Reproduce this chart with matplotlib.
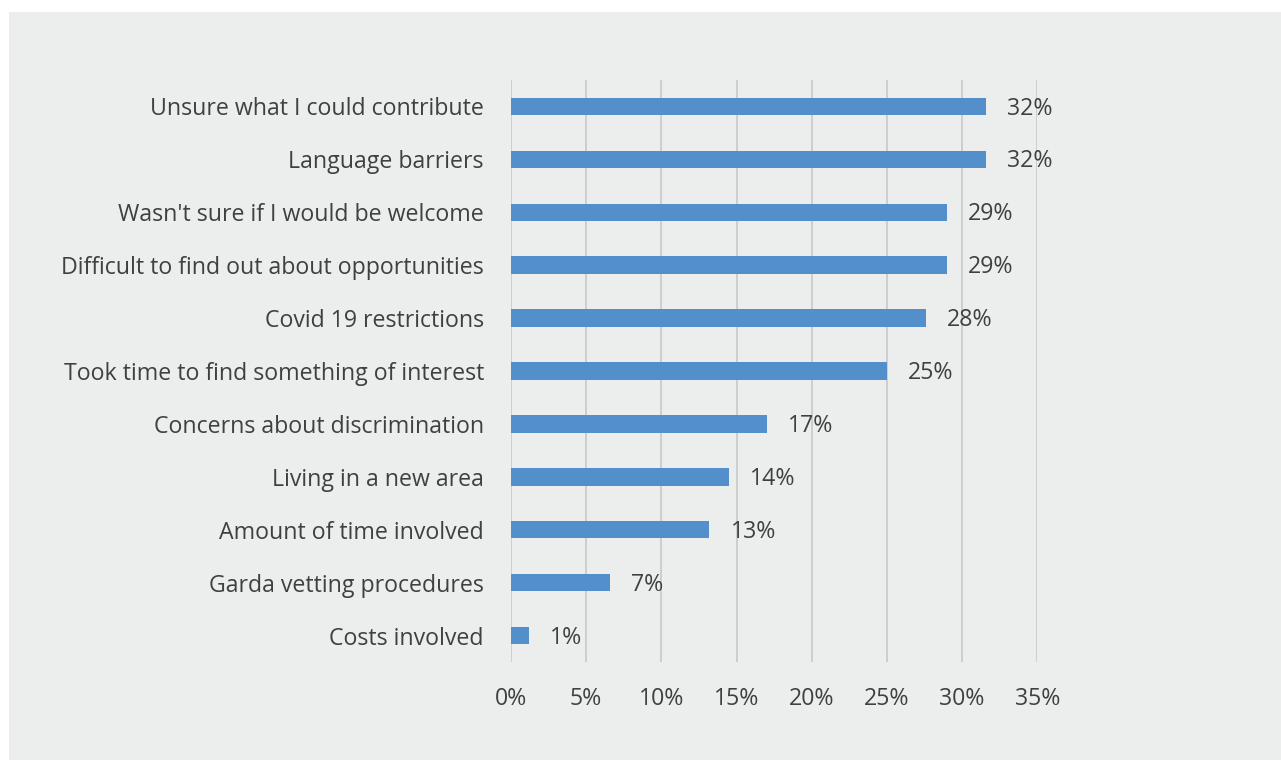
import matplotlib
matplotlib.use('Agg')
import matplotlib.pyplot as plt
from matplotlib.patches import Rectangle

reasons = ['Unsure what I could contribute', 'Language barriers',
           "Wasn't sure if I would be welcome",
           'Difficult to find out about opportunities', 'Covid 19 restrictions',
           'Took time to find something of interest',
           'Concerns about discrimination', 'Living in a new area',
           'Amount of time involved', 'Garda vetting procedures', 'Costs involved']
shares = [31.6, 31.6, 29.0, 29.0, 27.6, 25.0, 17.0, 14.5, 13.2, 6.6, 1.2]
xticks = [0, 5, 10, 15, 20, 25, 30, 35]

bg = '#eceeee'
txt = '#404040'
plt.rcParams['font.family'] = ['Open Sans', 'DejaVu Sans']

fig = plt.figure(figsize=(12.81, 7.6), dpi=100)
fig.patch.set_facecolor('white')
# grey panel, leaving a thin white strip on top and left
fig.add_artist(Rectangle((9 / 1281, 0), 1, 1 - 12 / 760, transform=fig.transFigure,
                         facecolor=bg, edgecolor='none', zorder=-10))

ax = fig.add_axes([511 / 1281, 1 - 662 / 760, 526.3 / 1281, 582 / 760])
ax.set_facecolor('none')
ypos = list(range(len(reasons)))
ax.barh(ypos, shares, height=0.33, color='#5390cb', zorder=3)
for y, v in zip(ypos, shares):
    ax.text(v + 1.4, y + 0.04, f'{v:.0f}%', va='center', ha='left', fontsize=16.7, color=txt)

ax.set_xlim(0, 35)
ax.set_ylim(len(reasons) - 0.5, -0.5)
ax.set_xticks(xticks)
ax.set_xticklabels([f'{t}%' for t in xticks])
ax.set_yticks(ypos)
ax.set_yticklabels(reasons)
ax.tick_params(axis='both', length=0, labelsize=16.7, labelcolor=txt)
ax.tick_params(axis='y', pad=19.5)
ax.tick_params(axis='x', pad=18)
ax.grid(axis='x', color='#c8c8c8', linewidth=1.2, zorder=0)
for s in ax.spines.values():
    s.set_visible(False)

plt.savefig('out.png', dpi=100, facecolor=fig.get_facecolor())
